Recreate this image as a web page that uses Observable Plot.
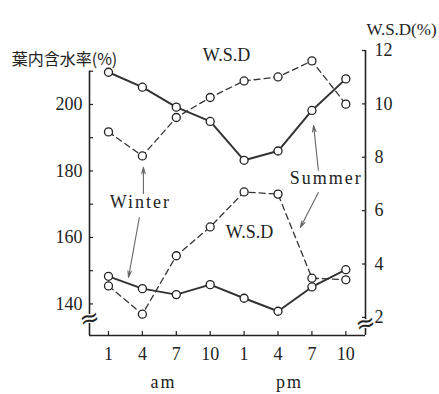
<!DOCTYPE html>
<html>
<head>
<meta charset="utf-8">
<script src="https://cdn.jsdelivr.net/npm/d3@7"></script>
<script src="https://cdn.jsdelivr.net/npm/@observablehq/plot@0.6"></script>
<style>
  body { margin: 0; background: #fff; }
  #chart svg { display: block; }
</style>
</head>
<body>
<div id="chart"></div>
<script>
// Hour of day for each observation (am: first four, pm: last four)
const hours = ["1", "4", "7", "10", "1", "4", "7", "10"];
const periods = ["am", "pm"];

// Leaf water content (%), left axis
const summerContent = [209.7, 205.2, 199.2, 194.9, 183.2, 186.0, 198.2, 207.7];
const winterContent = [148.3, 144.6, 142.8, 145.8, 141.7, 137.8, 145.1, 150.3];

// Water saturation deficit W.S.D (%), right axis
const winterWSD = [8.95, 8.05, 9.49, 10.24, 10.86, 11.01, 11.61, 9.99];
const summerWSD = [3.18, 2.12, 4.31, 5.39, 6.70, 6.62, 3.47, 3.41];

// Axis ticks
const contentTicks = [140, 150, 160, 170, 180, 190, 200, 210];
const contentLabels = [140, 160, 180, 200];
const wsdTicks = [2, 4, 6, 8, 10, 12];

// The right (W.S.D) axis is drawn on the same vertical scale as the left one
const toContent = w => 135.94 + 8.03 * (w - 2);
const fromContent = v => (v - 135.94) / 8.03 + 2;

const xDomain = [-0.56, 7.58];
const yDomain = [130.5, toContent(12)];

const series = arr => arr.map((v, i) => ({i, v}));
const wsdSeries = arr => arr.map((w, i) => ({i, v: toContent(w)}));

// Annotation arrows (x: observation index, y: left-axis units)
const arrows = [
  {x1: 1.03, y1: 173.2, x2: 1.03, y2: 181.1},
  {x1: 0.91, y1: 166.0, x2: 0.59, y2: 148.0},
  {x1: 6.19, y1: 180.2, x2: 6.05, y2: 193.7},
  {x1: 6.19, y1: 173.5, x2: 5.66, y2: 163.0}
];
const notes = [
  {x: 0.94, v: 170.5, t: "Winter"},
  {x: 6.42, v: 177.7, t: "Summer"},
  {x: 3.48, v: 214.7, t: "W.S.D"},
  {x: 4.16, v: 161.5, t: "W.S.D"}
];

const ink = "#222";
const serif = "'Liberation Serif', 'DejaVu Serif', serif";

const solid = {x: "i", y: "v", stroke: "#333", strokeWidth: 2};
const dashed = {x: "i", y: "v", stroke: "#333", strokeWidth: 1.3, strokeDasharray: "6,4"};
const ring = {x: "i", y: "v", r: 4, fill: "white", stroke: ink, strokeWidth: 1.3};

const chart = Plot.plot({
  width: 439,
  height: 394,
  marginLeft: 89,
  marginRight: 74,
  marginTop: 50,
  marginBottom: 59,
  x: {domain: xDomain},
  y: {domain: yDomain},
  style: {fontFamily: serif, fontSize: "18px", color: ink, background: "white"},
  marks: [
    // axis lines
    Plot.ruleX([xDomain[0]], {y1: yDomain[0], y2: 210, stroke: ink, strokeWidth: 1.6}),
    Plot.ruleX([xDomain[1]], {y1: yDomain[0], y2: yDomain[1], stroke: ink, strokeWidth: 1.6}),
    Plot.ruleY([yDomain[0]], {x1: xDomain[0], x2: xDomain[1], stroke: ink, strokeWidth: 1.6}),
    Plot.axisY({ticks: contentTicks, tickSize: -4, tickPadding: 11, strokeWidth: 1.2,
      tickFormat: d => contentLabels.includes(d) ? String(d) : "", label: null, fontSize: 18}),
    Plot.axisY({anchor: "right", ticks: wsdTicks.map(toContent), tickSize: -4, tickPadding: 13, strokeWidth: 1.2,
      tickFormat: d => String(Math.round(fromContent(d))), label: null, fontSize: 18}),
    Plot.axisX({ticks: d3.range(hours.length), tickSize: -4, tickPadding: 16, strokeWidth: 1.2,
      tickFormat: i => hours[i], label: null, fontSize: 18}),
    // axis breaks
    Plot.text([{x: xDomain[0], v: 135.6}, {x: xDomain[1], v: 134.1}], {
      x: "x", y: "v", text: () => "≈", fontSize: 24, fill: ink, stroke: "white", strokeWidth: 2.5,
      paintOrder: "stroke", rotate: -15, fontFamily: "'DejaVu Sans', sans-serif"
    }),
    // water content (solid) and W.S.D (dashed)
    Plot.line(series(summerContent), solid),
    Plot.line(series(winterContent), solid),
    Plot.line(wsdSeries(winterWSD), dashed),
    Plot.line(wsdSeries(summerWSD), dashed),
    Plot.dot(series(summerContent), ring),
    Plot.dot(series(winterContent), ring),
    Plot.dot(wsdSeries(winterWSD), ring),
    Plot.dot(wsdSeries(summerWSD), ring),
    // annotations
    Plot.arrow(arrows, {x1: "x1", y1: "y1", x2: "x2", y2: "y2", stroke: "#666", strokeWidth: 1.1,
      headLength: 9, headAngle: 30}),
    Plot.text(notes, {x: "x", y: "v", text: "t", fontSize: 18, fill: ink}),
    // am / pm under the hour labels
    Plot.text([{x: 1.62, t: periods[0]}, {x: 5.34, t: periods[1]}], {
      x: "x", text: "t", frameAnchor: "bottom", dy: 52, fontSize: 18, fill: ink
    }),
    // axis titles
    Plot.text(["葉内含水率(%)"], {
      frameAnchor: "top-left", dx: -25, dy: 3, textAnchor: "middle", fill: ink,
      fontFamily: "'Noto Sans CJK JP', sans-serif", fontSize: 16
    }),
    Plot.text(["W.S.D(%)"], {
      frameAnchor: "top-right", dx: 36, dy: -28, textAnchor: "middle", fill: ink, fontSize: 17
    })
  ]
});

document.getElementById("chart").append(chart);

// widen the spacing of the season labels and am/pm
d3.select(chart).selectAll("text")
  .filter(function() { return ["Winter", "Summer", "am", "pm"].includes(this.textContent); })
  .attr("letter-spacing", "2px");
</script>
</body>
</html>
